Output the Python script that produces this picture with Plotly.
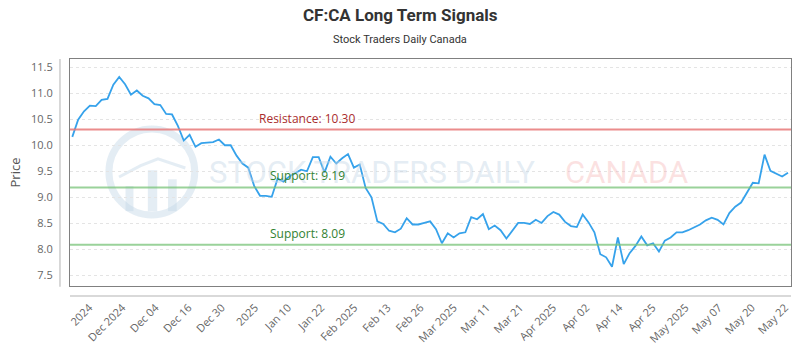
import numpy as np
import plotly.graph_objects as go

# Daily closing prices, CF:CA (late Nov 2024 - May 22 2025)
prices = [
    10.16, 10.49, 10.65, 10.76, 10.75, 10.87, 10.89, 11.16, 11.31, 11.17,
    10.97, 11.05, 10.95, 10.90, 10.79, 10.77, 10.60, 10.59, 10.37, 10.09,
    10.20, 9.97, 10.04, 10.05, 10.06, 10.11, 10.00, 10.00, 9.80, 9.65,
    9.57, 9.22, 9.03, 9.03, 9.01, 9.36, 9.30, 9.40, 9.47, 9.53,
    9.50, 9.77, 9.77, 9.48, 9.78, 9.65, 9.75, 9.83, 9.57, 9.63,
    9.18, 9.00, 8.54, 8.49, 8.36, 8.33, 8.40, 8.60, 8.48, 8.48,
    8.51, 8.54, 8.39, 8.12, 8.31, 8.23, 8.31, 8.33, 8.62, 8.58,
    8.68, 8.39, 8.46, 8.37, 8.21, 8.37, 8.51, 8.51, 8.49, 8.57,
    8.51, 8.64, 8.72, 8.67, 8.53, 8.45, 8.43, 8.67, 8.52, 8.33,
    7.91, 7.85, 7.67, 8.23, 7.72, 7.93, 8.07, 8.25, 8.08, 8.12,
    7.96, 8.17, 8.23, 8.33, 8.33, 8.37, 8.42, 8.48, 8.56, 8.61,
    8.57, 8.48, 8.70, 8.82, 8.90, 9.10, 9.28, 9.27, 9.82, 9.51,
    9.46, 9.40, 9.47,
]

tick_labels = [
    "2024", "Dec 2024", "Dec 04", "Dec 16", "Dec 30", "2025", "Jan 10",
    "Jan 22", "Feb 2025", "Feb 13", "Feb 26", "Mar 2025", "Mar 11", "Mar 21",
    "Apr 2025", "Apr 02", "Apr 14", "Apr 25", "May 2025", "May 07", "May 20",
    "May 22",
]

resistance = 10.30
supports = [9.19, 8.09]

x_idx = list(range(len(prices)))
n_last = len(prices) - 1
# labels spread evenly across the sessions
tick_pos = np.linspace(2.9, n_last - 0.5, len(tick_labels))

LABEL_FONT = "Open Sans, sans-serif"
BLUE = "rgb(54,162,235)"

fig = go.Figure()
fig.add_trace(go.Scatter(
    x=x_idx, y=prices, mode="lines",
    line=dict(color=BLUE, width=1.8),
    hoverinfo="skip", showlegend=False,
))

shapes = []
annotations = []

# faint watermark: logo ring, bars and trend line
wm_blue = "rgba(196,214,230,0.45)"
shapes.append(dict(type="circle", xref="paper", yref="paper",
                   x0=0.054, x1=0.173, y0=0.313, y1=0.692,
                   line=dict(color=wm_blue, width=7), layer="below"))
for bx0, bx1, btop in [(0.077, 0.088, 0.44), (0.108, 0.121, 0.51), (0.136, 0.148, 0.47)]:
    shapes.append(dict(type="rect", xref="paper", yref="paper",
                       x0=bx0, x1=bx1, y0=0.33, y1=btop,
                       fillcolor=wm_blue, line=dict(width=0), layer="below"))
shapes.append(dict(type="path", xref="paper", yref="paper",
                   path="M 0.068,0.48 L 0.098,0.53 L 0.122,0.56 L 0.160,0.52",
                   line=dict(color=wm_blue, width=3), layer="below"))
annotations.append(dict(text="STOCK TRADERS DAILY", xref="paper", yref="paper",
                        x=0.419, y=0.50, xanchor="center", yanchor="middle",
                        showarrow=False,
                        font=dict(family="Roboto, sans-serif", size=31,
                                  color="rgba(196,214,230,0.45)")))
annotations.append(dict(text="CANADA", xref="paper", yref="paper",
                        x=0.772, y=0.50, xanchor="center", yanchor="middle",
                        showarrow=False,
                        font=dict(family="Roboto, sans-serif", size=31,
                                  color="rgba(245,170,170,0.35)")))

# signal levels
shapes.append(dict(type="line", xref="x domain", yref="y", x0=0, x1=1,
                   y0=resistance, y1=resistance,
                   line=dict(color="rgba(232,120,120,0.85)", width=2)))
annotations.append(dict(text=f"Resistance: {resistance:.2f}", xref="paper", yref="y",
                        x=0.329, y=resistance, xanchor="center", yanchor="bottom",
                        yshift=1, showarrow=False,
                        font=dict(family=LABEL_FONT, size=12, color="rgb(170,45,45)")))
for s in supports:
    shapes.append(dict(type="line", xref="x domain", yref="y", x0=0, x1=1,
                       y0=s, y1=s,
                       line=dict(color="rgba(120,195,120,0.75)", width=2)))
    annotations.append(dict(text=f"Support: {s:.2f}", xref="paper", yref="y",
                            x=0.329, y=s, xanchor="center", yanchor="bottom",
                            yshift=1, showarrow=False,
                            font=dict(family=LABEL_FONT, size=12, color="rgb(50,130,50)")))

# outer axis rules
shapes.append(dict(type="line", xref="paper", yref="paper",
                   x0=-0.0139, x1=-0.0139, y0=-0.003, y1=1.0,
                   line=dict(color="#cccccc", width=1.5)))
shapes.append(dict(type="line", xref="paper", yref="paper",
                   x0=0, x1=1, y0=-0.044, y1=-0.044,
                   line=dict(color="#cccccc", width=1.5)))

# title, subtitle and y-axis caption
annotations.append(dict(text="<b>CF:CA Long Term Signals</b>", xref="paper", yref="paper",
                        x=0.458, y=1.194, xanchor="center", yanchor="middle",
                        showarrow=False,
                        font=dict(family="Roboto, sans-serif", size=17, color="#333333")))
annotations.append(dict(text="Stock Traders Daily Canada", xref="paper", yref="paper",
                        x=0.458, y=1.084, xanchor="center", yanchor="middle",
                        showarrow=False,
                        font=dict(family="Roboto, sans-serif", size=11, color="#333333")))
annotations.append(dict(text="Price", xref="paper", yref="paper",
                        x=-0.0763, y=0.50, xanchor="center", yanchor="middle",
                        textangle=-90, showarrow=False,
                        font=dict(family=LABEL_FONT, size=13, color="#555555")))

fig.update_layout(
    width=800, height=350, autosize=False,
    margin=dict(l=70, r=9, t=59, b=64),
    paper_bgcolor="white", plot_bgcolor="white",
    shapes=shapes, annotations=annotations,
    showlegend=False,
)
fig.update_xaxes(
    range=[-0.39, n_last + 0.51], automargin=False,
    tickmode="array", tickvals=tick_pos, ticktext=tick_labels,
    tickangle=-45, ticks="", ticklabelstandoff=10,
    tickfont=dict(family=LABEL_FONT, size=11, color="#666666"),
    showgrid=False, zeroline=False,
    showline=True, mirror=True, linecolor="#808080", linewidth=1,
)
fig.update_yaxes(
    range=[7.30, 11.654], tick0=7.5, dtick=0.5, tickformat=".1f",
    automargin=False, ticks="", ticklabelstandoff=14,
    tickfont=dict(family=LABEL_FONT, size=11, color="#666666"),
    showgrid=True, gridcolor="#e4e4e4", griddash="3px,3px", gridwidth=1,
    zeroline=False,
    showline=True, mirror=True, linecolor="#808080", linewidth=1,
)

fig.write_html("out.html")
